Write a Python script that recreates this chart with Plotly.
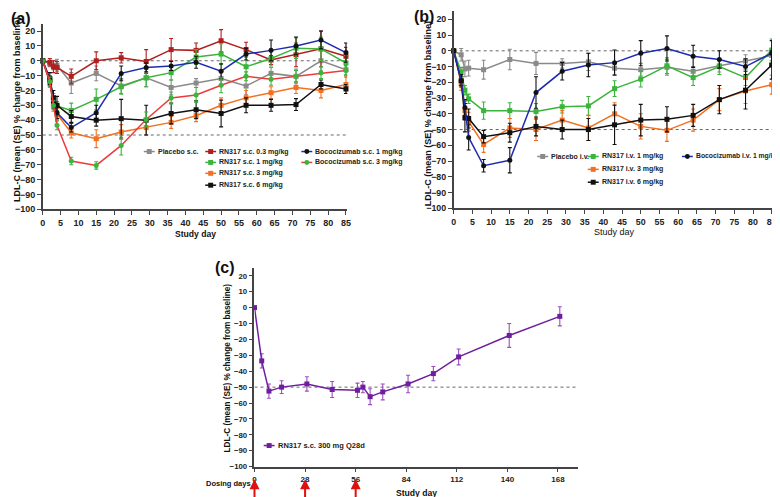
import plotly.graph_objects as go

W, H = 780, 497
FONT = "Liberation Sans, Arial, sans-serif"

# ---------------- data ----------------
DAYS_A = [0, 2, 3, 4, 8, 15, 22, 29, 36, 43, 50, 57, 64, 71, 78, 85]
PLACEBO_SC = [0, -2, -3, -3, -15, -8.5, -17, -11.5, -18, -15, -12, -17, -8.5, -10.5, 0, -6]
PLACEBO_SC_SE = [0, 2, 3, 4, 7, 5, 5, 6, 5, 3, 5, 6, 4, 5, 7, 5]
RN_SC_03 = [0, -1, -4, -4.5, -10.5, 0, 2, -0.5, 7.5, 7, 13.5, 7.5, 0.5, 4, 8, 3]
RN_SC_03_SE = [0, 2.5, 4, 4, 5, 6, 3.5, 8, 7.5, 5, 7.5, 5, 3, 8, 12, 6]
RN_SC_1 = [0, -13, -25, -30.5, -33.5, -26, -17.5, -11.5, -8, 2.5, 4.5, -4, 1.5, 8.5, 8, -1.5]
RN_SC_1_SE = [0, 3, 3, 3, 5, 7, 5, 6, 5, 5, 7, 7, 5, 7, 8, 5]
RN_SC_3 = [0, -15, -30, -36, -48.5, -52.5, -48, -45, -41.5, -37, -30, -25, -21.5, -18, -20, -16]
RN_SC_3_SE = [0, 3, 4, 4, 3.5, 6, 5, 5, 4, 4, 5, 5, 4, 4, 5, 6]
RN_SC_6 = [0, -12, -25, -30, -37.5, -40, -39, -40, -35.5, -33, -35.5, -30, -30, -29.5, -16, -19]
RN_SC_6_SE = [0, 4, 5, 6, 4, 4, 13, 10, 7, 6, 9, 5, 4, 4, 3, 3]
BOCO_SC_1 = [0, -14, -28, -35, -45, -35, -8.5, -4.5, -3.5, -1, -7, 4.5, 7, 10, 14, 5.5]
BOCO_SC_1_SE = [0, 3, 4, 4, 3, 5, 5, 3, 3, 4, 5, 4, 7, 6, 6, 6.5]
BOCO_SC_3 = [0, -14, -30, -43.5, -67.5, -70.5, -57, -39.5, -25, -23, -16.5, -10.5, -12.5, -10.5, -8, -6.5]
BOCO_SC_3_SE = [0, 3, 3, 3, 2.5, 2.5, 6.5, 5, 4, 5, 5, 3, 4, 4, 4, 3]

DAYS_B = [0, 2, 3, 4, 8, 15, 22, 29, 36, 43, 50, 57, 64, 71, 78, 85]
PLACEBO_IV = [0, -2.5, -11.5, -11, -12, -5.5, -8, -8, -7, -11, -12, -10.5, -13, -9.5, -6.5, -3]
PLACEBO_IV_SE = [0, 4, 5, 5, 6, 6.5, 7, 3, 5.5, 4, 4, 5, 3, 4, 4, 3]
RN_IV_1 = [0, -13.5, -25, -30.5, -38, -38, -38.5, -35.5, -35, -24, -18, -9.5, -17, -10, -17, 0.5]
RN_IV_1_SE = [0, 3, 3, 3, 5.5, 5, 5, 4, 6, 5, 5, 5, 5, 5, 5, 7]
RN_IV_3 = [0, -21, -38, -45, -59.5, -49, -50, -44, -49, -40, -48, -50.5, -44, -31, -25.5, -21.5]
RN_IV_3_SE = [0, 4, 6, 6, 5, 6, 7, 6, 8, 7, 8, 7, 7, 7, 8, 6]
RN_IV_6 = [0, -19, -42.5, -43, -54.5, -52, -48, -50, -50, -47, -44, -43.5, -41, -31, -25, -9]
RN_IV_6_SE = [0, 4, 9, 6, 4, 6, 6, 6, 7, 12.5, 10, 8, 7, 9, 12, 9]
BOCO_IV_1 = [0, -19, -36, -55, -73, -69.5, -26.5, -13, -9, -7.5, -1.5, 1.5, -3.5, -5.5, -10, -1.5]
BOCO_IV_1_SE = [0, 3, 5, 8, 4, 8, 10, 5.5, 7.5, 8, 8, 8, 7, 5.5, 5, 8]

DAYS_C = [0, 4, 8, 15, 29, 43, 57, 60, 64, 71, 85, 99, 113, 141, 169]
RN_Q28 = [0, -33.5, -52.5, -50, -48, -51.5, -52, -50, -56, -53, -48, -41.5, -31, -17.5, -5.5]
RN_Q28_SE = [0, 4.5, 4.5, 4, 4.5, 5, 4.5, 3.5, 5, 5, 5.5, 4.5, 5, 7.5, 6]

DOSING_DAYS = [0, 28, 56]
REF_LINES_AB = [0, -50]
REF_LINES_C = [-50]
Y_TICKS = list(range(-100, 21, 10))
X_TICKS_AB = list(range(0, 86, 5))
X_TICKS_C = [0, 28, 56, 84, 112, 140, 168]

GRAY = "#8a8a8a"
DRED = "#B21E1E"
GREEN = "#3BB43B"
ORANGE = "#F47020"
BLACK = "#111111"
BLUE = "#1E2DB0"
RED = "#EF3A3A"
PURPLE = "#6E1E9E"
PURPLE_E = "#9C4FBF"


def fx(p):
    return p / W


def fy(p):
    return 1 - p / H


fig = go.Figure()

# name, days, values, se, line colour, marker colour, symbol, error colour, axes, legend text x, legend y
SERIES = [
    ("Placebo s.c.", DAYS_A, PLACEBO_SC, PLACEBO_SC_SE, GRAY, GRAY, "square", GRAY, 1, 148, 145),
    ("RN317 s.c. 0.3 mg/kg", DAYS_A, RN_SC_03, RN_SC_03_SE, DRED, DRED, "square", DRED, 1, 210, 145),
    ("RN317 s.c. 1 mg/kg", DAYS_A, RN_SC_1, RN_SC_1_SE, GREEN, GREEN, "square", GREEN, 1, 210, 156),
    ("RN317 s.c. 3 mg/kg", DAYS_A, RN_SC_3, RN_SC_3_SE, ORANGE, ORANGE, "square", ORANGE, 1, 210, 167),
    ("RN317 s.c. 6 mg/kg", DAYS_A, RN_SC_6, RN_SC_6_SE, BLACK, BLACK, "square", BLACK, 1, 210, 179),
    ("Bococizumab s.c. 1 mg/kg", DAYS_A, BOCO_SC_1, BOCO_SC_1_SE, BLUE, BLACK, "circle", BLACK, 1, 307, 145),
    ("Bococizumab s.c. 3 mg/kg", DAYS_A, BOCO_SC_3, BOCO_SC_3_SE, RED, GREEN, "circle", GREEN, 1, 307, 156),
    ("Placebo i.v.", DAYS_B, PLACEBO_IV, PLACEBO_IV_SE, GRAY, GRAY, "square", GRAY, 2, 545, 150),
    ("RN317 i.v. 1 mg/kg", DAYS_B, RN_IV_1, RN_IV_1_SE, GREEN, GREEN, "square", GREEN, 2, 596, 150),
    ("RN317 i.v. 3 mg/kg", DAYS_B, RN_IV_3, RN_IV_3_SE, ORANGE, ORANGE, "square", ORANGE, 2, 596, 163),
    ("RN317 i.v. 6 mg/kg", DAYS_B, RN_IV_6, RN_IV_6_SE, BLACK, BLACK, "square", BLACK, 2, 596, 176),
    ("Bococizumab i.v. 1 mg/kg", DAYS_B, BOCO_IV_1, BOCO_IV_1_SE, BLUE, BLACK, "circle", BLACK, 2, 691, 150),
    ("RN317 s.c. 300 mg Q28d", DAYS_C, RN_Q28, RN_Q28_SE, PURPLE, PURPLE, "square", PURPLE_E, 3, 269, 442),
]

shapes = []
ann = []

for (name, days, vals, se, lc, mc, sym, ec, ax, ltx, lty) in SERIES:
    sfx = "" if ax == 1 else str(ax)
    fig.add_trace(go.Scatter(
        x=days, y=vals, name=name, mode="lines+markers",
        xaxis="x" + sfx, yaxis="y" + sfx,
        line=dict(color=lc, width=1.5),
        marker=dict(color=mc, symbol=sym, size=5),
        error_y=dict(type="data", array=se, visible=True, color=ec, thickness=1.1, width=2),
        cliponaxis=False, showlegend=False,
    ))
    # legend key (decoration)
    shapes.append(dict(type="line", xref="paper", yref="paper",
                       x0=fx(ltx - 14), x1=fx(ltx - 3), y0=fy(lty), y1=fy(lty),
                       line=dict(color=lc, width=1.5)))
    shapes.append(dict(type="rect" if sym == "square" else "circle", xref="paper", yref="paper",
                       x0=fx(ltx - 11), x1=fx(ltx - 6), y0=fy(lty + 2.5), y1=fy(lty - 2.5),
                       fillcolor=mc, line=dict(width=0)))
    fsz = 7.5 if ax == 3 else (6.8 if name.startswith("Bococizumab i.v.") else 7.0)
    ann.append(dict(text=name, x=fx(ltx - 1), y=fy(lty), xref="paper", yref="paper",
                    showarrow=False, xanchor="left", yanchor="middle", borderpad=0,
                    font=dict(family=FONT, size=fsz, color="#222", weight="bold")))

AX_LINE = "#444444"


def xaxis_style(domain, rng, ticks, anchor, size):
    return dict(domain=domain, range=rng, anchor=anchor, tickvals=ticks,
                showline=True, linecolor=AX_LINE, linewidth=1.5, ticks="outside",
                ticklen=4, tickwidth=1.2, tickcolor=AX_LINE, showgrid=False, zeroline=False,
                ticklabeloverflow="allow",
                tickfont=dict(family=FONT, size=size, color="#222", weight="bold"),
                fixedrange=True)


def yaxis_style(domain, anchor, size):
    return dict(domain=domain, range=[-100, 25], anchor=anchor, tickvals=Y_TICKS,
                showline=True, linecolor=AX_LINE, linewidth=1.5, ticks="outside",
                ticklen=4, tickwidth=1.2, tickcolor=AX_LINE, showgrid=False, zeroline=False,
                ticklabeloverflow="allow",
                tickfont=dict(family=FONT, size=size, color="#222", weight="bold"),
                fixedrange=True)


XR_A = [0, 85.36]
XR_B = [0, 85.9]
XR_C = [0, 179]

layout = dict(
    width=W, height=H, autosize=False,
    margin=dict(l=0, r=0, t=0, b=0),
    paper_bgcolor="white", plot_bgcolor="white",
    font=dict(family=FONT, color="#222"),
    showlegend=False,
    xaxis=xaxis_style([fx(32), fx(339.3)], XR_A, X_TICKS_AB, "y", 9),
    yaxis=yaxis_style([fy(203.3), fy(15.8)], "x", 9),
    xaxis2=xaxis_style([fx(446.7), fx(771)], XR_B, X_TICKS_AB, "y2", 8.8),
    yaxis2=yaxis_style([fy(202.3), fy(3.5)], "x2", 8.8),
    xaxis3=xaxis_style([fx(245.7), fx(572)], XR_C, X_TICKS_C, "y3", 8),
    yaxis3=yaxis_style([fy(463.3), fy(262.5)], "x3", 7.8),
)

for ref_lines, xr, xs, ys in [(REF_LINES_AB, XR_A, "x", "y"), (REF_LINES_AB, XR_B, "x2", "y2"),
                              (REF_LINES_C, XR_C, "x3", "y3")]:
    for v in ref_lines:
        shapes.append(dict(type="line", xref=xs, yref=ys, x0=0, x1=xr[1], y0=v, y1=v,
                           line=dict(color="#666", width=1, dash="dot"), layer="below"))
layout["shapes"] = shapes


def text(t, x, y, size, bold=True, angle=0, xanchor="center"):
    ann.append(dict(text=t, x=fx(x), y=fy(y), xref="paper", yref="paper", showarrow=False,
                    xanchor=xanchor, yanchor="middle", textangle=angle,
                    font=dict(family=FONT, size=size, color="#111", weight="bold" if bold else "normal")))


text("(a)", 10, 11, 16)
text("(b)", 417, 9, 16)
text("(c)", 216, 262, 16)
YT = "LDL-C (mean (SE) % change from baseline)"
text(YT, 6, 102, 9, angle=-90)
text(YT, 421, 107, 9, angle=-90)
text(YT, 218, 364, 8.2, angle=-90)
text("Study day", 186, 228, 8.6)
text("Study day", 609, 226, 9, bold=False)
text("Study day", 409, 490, 8.6)
text("Dosing days", 219, 480, 7.5)

for d in DOSING_DAYS:
    ann.append(dict(text="", x=d, xref="x3", y=fy(476), yref="paper", showarrow=True,
                    ax=0, ay=21, axref="pixel", ayref="pixel", arrowhead=2, arrowsize=1,
                    arrowwidth=2, arrowcolor="#E01010"))
layout["annotations"] = ann

fig.update_layout(**layout)
fig.write_html("out.html")
